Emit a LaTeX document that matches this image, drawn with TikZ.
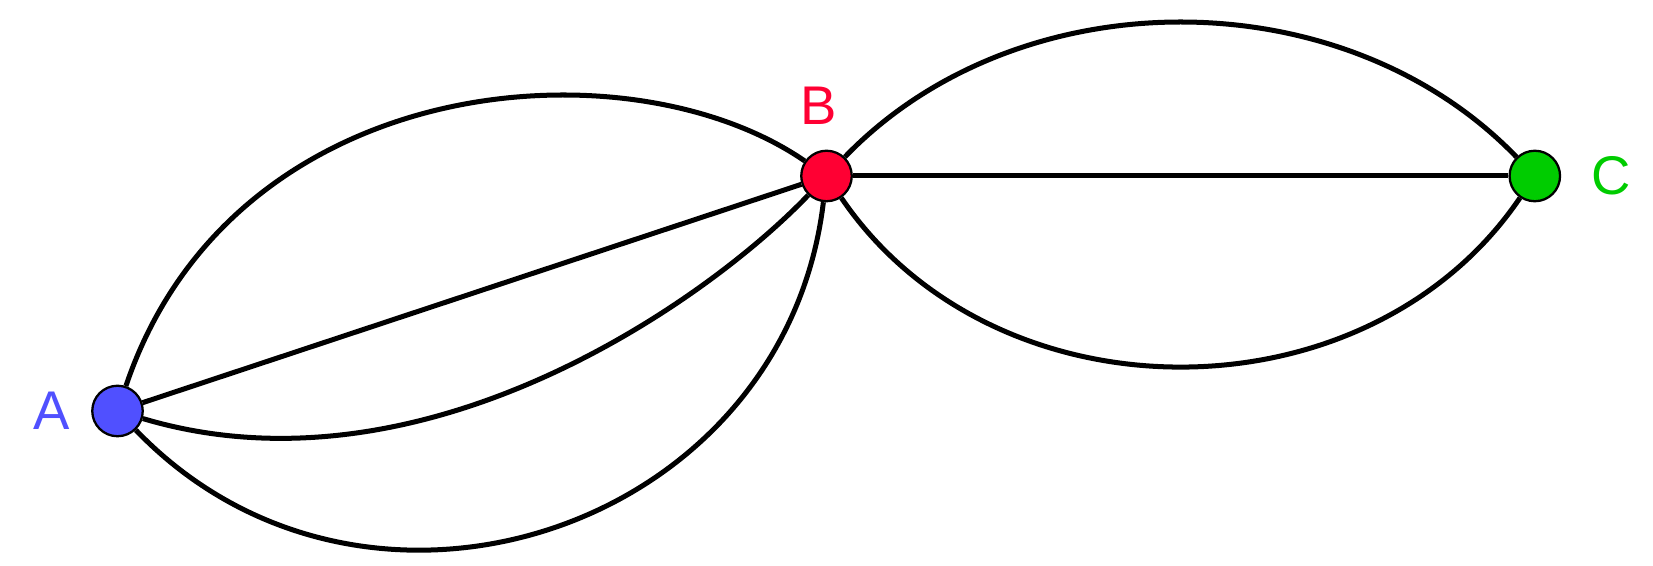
\documentclass[tikz,border=0pt]{standalone}
\usepackage{fontspec}
\setmainfont{Liberation Sans}
\usetikzlibrary{positioning,backgrounds}
\definecolor{colA}{RGB}{80,80,255}
\definecolor{colB}{RGB}{255,0,51}
\definecolor{colC}{RGB}{0,204,0}
\tikzset{
  vtx/.style={circle, draw, line width=1.3pt, inner sep=0pt, minimum size=1.01cm},
  lbl/.style={font=\fontsize{31}{31}\selectfont, inner sep=0pt},
  edg/.style={line width=2.85pt},
}

\begin{document}
\begin{tikzpicture}[node distance=5mm]
    \useasboundingbox (0,0) rectangle (33.06,11.32);
    \node[vtx,fill=colA] (A) at (2.35,3.1) {};
    \node[vtx,fill=colB,on grid,above right=4.7cm and 14.18cm of A] (B) {};
    \node[vtx,fill=colC,on grid,right=14.166cm of B] (C) {};
    \node[lbl,text=colA,left=0.42cm of A] (labA) {A};
    \node[lbl,text=colB,above=0.5cm of B,xshift=-0.15cm] (labB) {B};
    \node[lbl,text=colC,right=0.6cm of C] (labC) {C};
    \begin{scope}[on background layer]
    % A -- B
    \draw[edg] (A) .. controls +(2.30,6.824) and +(-3.954,2.728) .. (B);
    \draw[edg] (A) -- (B);
    \draw[edg] (A) .. controls +(6.13,-1.83) and +(-2.348,-2.46) .. (B);
    \draw[edg] (A) .. controls +(4.95,-5.15) and +(-0.85,-7.1) .. (B);
    % B -- C
    \draw[edg] (B) .. controls +(3.84,3.98) and +(-3.84,3.98) .. (C);
    \draw[edg] (B) -- (C);
    \draw[edg] (B) .. controls +(3.36,-4.95) and +(-3.36,-4.95) .. (C);
    \end{scope}
\end{tikzpicture}
\end{document}
